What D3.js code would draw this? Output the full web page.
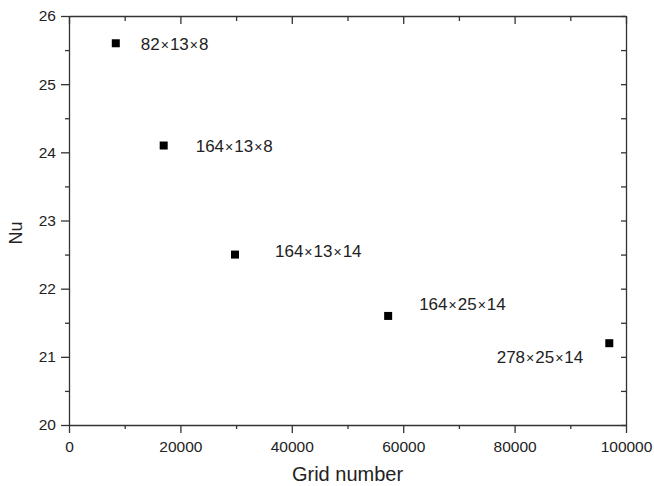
<!DOCTYPE html>
<html>
<head>
    <meta charset="utf-8">
    <title>Nu vs grid number</title>
    <style>
        body { margin: 0; background: #fff; }
        svg { display: block; font-family: "Liberation Sans", Arial, sans-serif; }
        .axis path, .axis line { stroke: #333; stroke-width: 1.3px; }
        .axis text { fill: #222; font-size: 15.5px; }
    </style>
</head>
<body>
<script src="https://d3js.org/d3.v7.min.js"></script>
<script>
    // data
    const gridNumbers = [8400, 17000, 29800, 57300, 97000];
    const nuValues = [25.6, 24.1, 22.5, 21.6, 21.2];
    const gridLabels = ["82×13×8", "164×13×8", "164×13×14", "164×25×14", "278×25×14"];
    const xTicks = [0, 20000, 40000, 60000, 80000, 100000];
    const yTicks = [20, 21, 22, 23, 24, 25, 26];

    // where each label sits relative to its marker (layout only)
    const labelOffsets = [[25, 1], [32, 1], [40, -4], [31, -12], [-26, 14]];
    const labelAnchors = ["start", "start", "start", "start", "end"];

    const width = 654, height = 486;
    const margin = { top: 16, right: 28, bottom: 61, left: 69 };

    const svg = d3.select("body").append("svg")
        .attr("width", width)
        .attr("height", height);

    const x = d3.scaleLinear().domain([0, 100000]).range([margin.left, width - margin.right]);
    const y = d3.scaleLinear().domain([20, 26]).range([height - margin.bottom, margin.top]);

    const xMinor = d3.range(10000, 100000, 20000);
    const yMinor = d3.range(20.5, 26, 1);

    // minor ticks first, majors on top
    svg.append("g").attr("class", "axis")
        .attr("transform", `translate(0,${y(20)})`)
        .call(d3.axisBottom(x).tickValues(xMinor).tickSize(4).tickFormat(""))
        .call(g => g.select(".domain").remove());
    svg.append("g").attr("class", "axis")
        .attr("transform", `translate(${x(0)},0)`)
        .call(d3.axisLeft(y).tickValues(yMinor).tickSize(4).tickFormat(""))
        .call(g => g.select(".domain").remove());
    svg.append("g").attr("class", "axis")
        .attr("transform", `translate(0,${y(26)})`)
        .call(d3.axisBottom(x).tickValues(xMinor).tickSize(5).tickFormat(""))
        .call(g => g.select(".domain").remove());
    svg.append("g").attr("class", "axis")
        .attr("transform", `translate(${x(100000)},0)`)
        .call(d3.axisLeft(y).tickValues(yMinor).tickSize(5).tickFormat(""))
        .call(g => g.select(".domain").remove());

    // mirrored axes, ticks pointing inward
    svg.append("g").attr("class", "axis")
        .attr("transform", `translate(0,${y(26)})`)
        .call(d3.axisBottom(x).tickValues(xTicks).tickSizeInner(8).tickSizeOuter(0).tickFormat(""));
    svg.append("g").attr("class", "axis")
        .attr("transform", `translate(${x(100000)},0)`)
        .call(d3.axisLeft(y).tickValues(yTicks).tickSizeInner(5).tickSizeOuter(0).tickFormat(""));

    // main axes
    svg.append("g").attr("class", "axis")
        .attr("transform", `translate(0,${y(20)})`)
        .call(d3.axisBottom(x).tickValues(xTicks).tickSizeInner(8).tickSizeOuter(0).tickPadding(8).tickFormat(d3.format("d")));
    svg.append("g").attr("class", "axis")
        .attr("transform", `translate(${x(0)},0)`)
        .call(d3.axisLeft(y).tickValues(yTicks).tickSizeInner(8).tickSizeOuter(0).tickPadding(5).tickFormat(d3.format("d")));

    // markers
    svg.append("g").selectAll("rect")
        .data(gridNumbers)
        .join("rect")
        .attr("x", (d, i) => x(d) - 4)
        .attr("y", (d, i) => y(nuValues[i]) - 4)
        .attr("width", 8)
        .attr("height", 8)
        .attr("fill", "#000");

    // labels, with the × drawn a bit smaller
    const labels = svg.append("g").selectAll("text")
        .data(gridLabels)
        .join("text")
        .attr("x", (d, i) => x(gridNumbers[i]) + labelOffsets[i][0])
        .attr("y", (d, i) => y(nuValues[i]) + labelOffsets[i][1])
        .attr("dy", "0.35em")
        .attr("text-anchor", (d, i) => labelAnchors[i])
        .attr("fill", "#222")
        .style("font-size", "17px");

    labels.each(function(d) {
        const t = d3.select(this);
        d.split("×").forEach((part, k) => {
            if (k > 0) {
                t.append("tspan").attr("dx", 1).style("font-size", "14px").text("×");
                t.append("tspan").attr("dx", 1).text(part);
            } else {
                t.append("tspan").text(part);
            }
        });
    });

    // axis titles
    svg.append("text")
        .attr("x", (x(0) + x(100000)) / 2)
        .attr("y", 481)
        .attr("text-anchor", "middle")
        .attr("fill", "#222")
        .style("font-size", "20px")
        .text("Grid number");

    svg.append("text")
        .attr("transform", `translate(22,233) rotate(-90)`)
        .attr("text-anchor", "middle")
        .attr("fill", "#222")
        .style("font-size", "18px")
        .text("Nu");
</script>
</body>
</html>
